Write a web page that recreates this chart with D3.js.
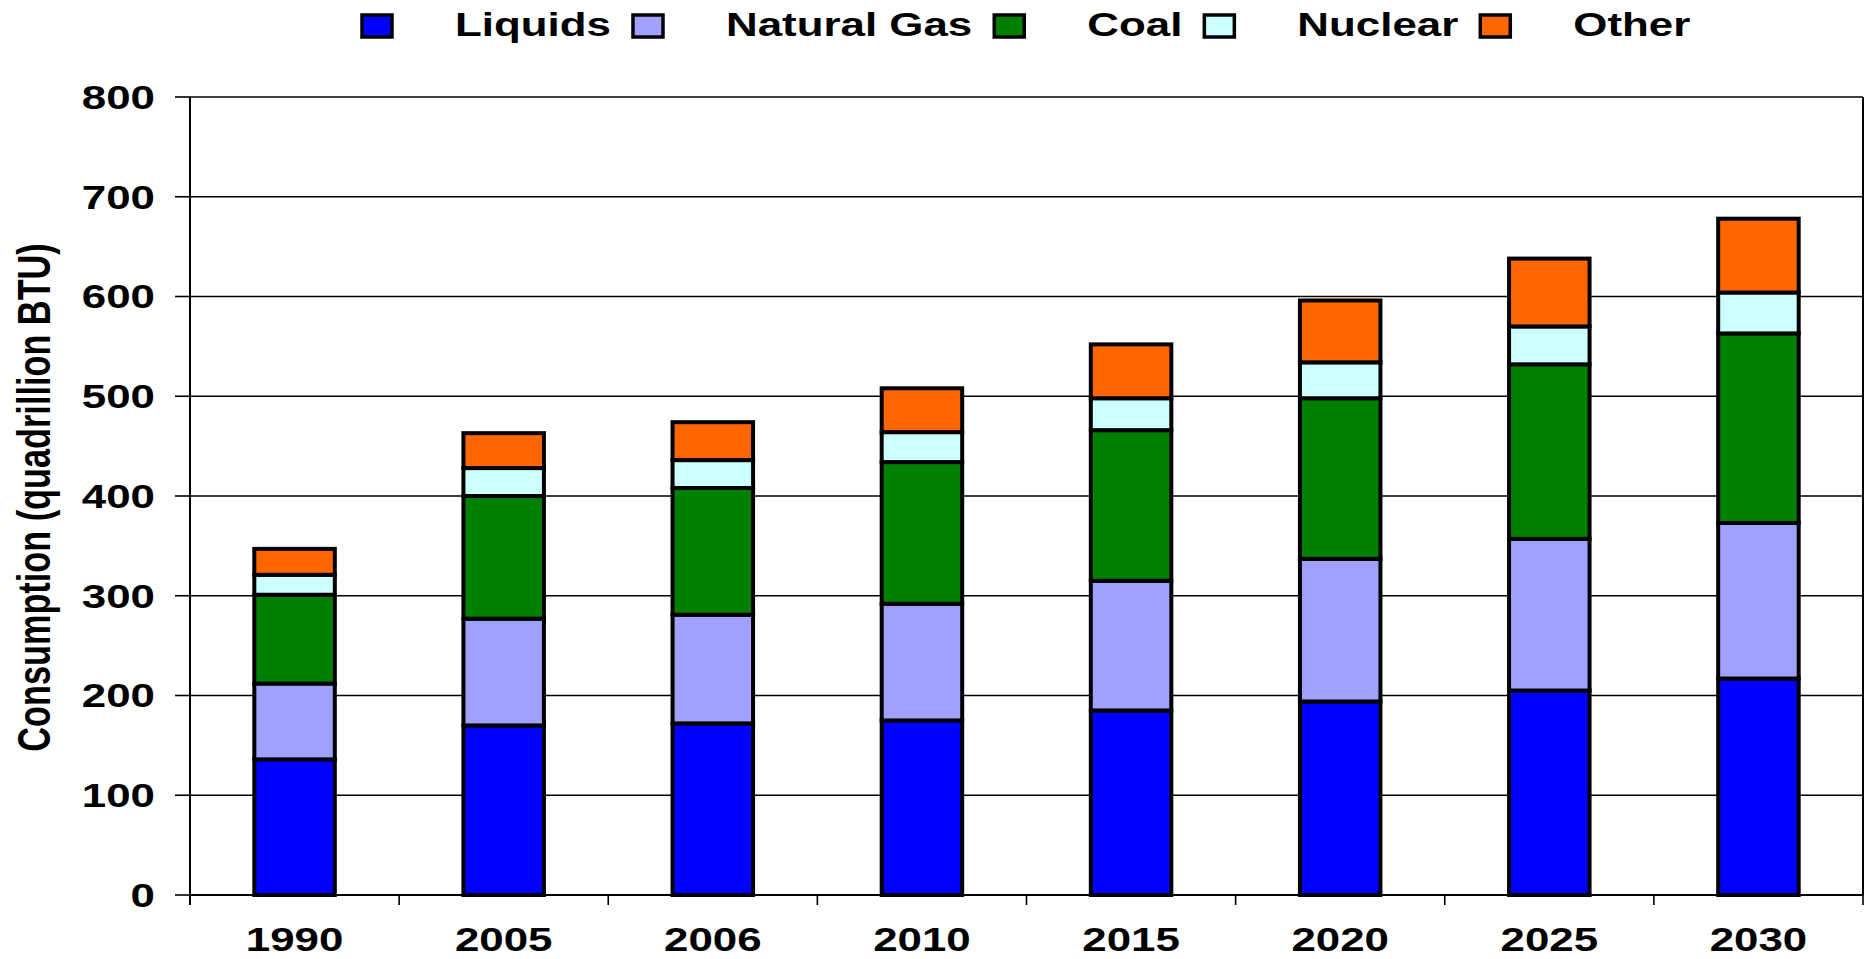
<!DOCTYPE html>
<html>
<head>
<meta charset="utf-8">
<script src="https://cdn.jsdelivr.net/npm/d3@7"></script>
<style>
  html, body { margin: 0; padding: 0; background: #fff; }
  svg { display: block; font-family: "Liberation Sans", Arial, sans-serif; font-weight: bold; }
</style>
</head>
<body>
<svg id="chart" width="1868" height="959"></svg>
<script>
// ---- data ----
const years = ["1990", "2005", "2006", "2010", "2015", "2020", "2025", "2030"];
const liquids    = [136, 170, 172, 175, 185, 194, 205, 217];
const naturalGas = [ 76, 107, 109, 117, 130, 143, 152, 156];
const coal       = [ 89, 123, 127, 142, 151, 161, 175, 190];
const nuclear    = [ 20,  28,  28,  30,  32,  36,  38,  41];
const other      = [ 26,  35,  38,  44,  54,  62,  68,  74];
const seriesNames = ["Liquids", "Natural Gas", "Coal", "Nuclear", "Other"];
const seriesColors = ["#0000FF", "#A0A0FF", "#008000", "#CCFFFF", "#FF6600"];
const yTicks = [0, 100, 200, 300, 400, 500, 600, 700, 800];
const yTitle = "Consumption (quadrillion BTU)";

// ---- layout ----
const svg = d3.select("#chart");
const plotLeft = 190, plotRight = 1863, plotTop = 97, plotBottom = 895;
const SX = 1.33;      // horizontal text stretch of original picture
const FS = 33;

const table = years.map((yr, i) => ({
  year: yr,
  "Liquids": liquids[i],
  "Natural Gas": naturalGas[i],
  "Coal": coal[i],
  "Nuclear": nuclear[i],
  "Other": other[i]
}));

const x = d3.scaleBand().domain(years).range([plotLeft, plotRight])
  .paddingInner(0.615).paddingOuter(0.3075);
const y = d3.scaleLinear().domain([0, 800]).range([plotBottom, plotTop]);
const color = d3.scaleOrdinal().domain(seriesNames).range(seriesColors);

// gridlines
svg.append("g").selectAll("line").data(yTicks.filter(t => t > 0)).join("line")
  .attr("x1", plotLeft).attr("x2", plotRight)
  .attr("y1", d => y(d)).attr("y2", d => y(d))
  .attr("stroke", "#000").attr("stroke-width", 1.4);

// right border
svg.append("line").attr("x1", plotRight).attr("x2", plotRight).attr("y1", y(800)).attr("y2", y(0))
  .attr("stroke", "#000").attr("stroke-width", 2);

// bars
const stacked = d3.stack().keys(seriesNames)(table);
svg.append("g").selectAll("g").data(stacked).join("g")
  .attr("fill", d => color(d.key))
  .selectAll("rect").data(d => d).join("rect")
  .attr("x", d => x(d.data.year))
  .attr("width", x.bandwidth())
  .attr("y", d => y(d[1]))
  .attr("height", d => y(d[0]) - y(d[1]))
  .attr("stroke", "#000").attr("stroke-width", 4);

// y axis line and ticks
svg.append("line").attr("x1", plotLeft).attr("x2", plotLeft).attr("y1", y(800)).attr("y2", y(0) + 10)
  .attr("stroke", "#000").attr("stroke-width", 2);
svg.append("g").selectAll("line").data(yTicks).join("line")
  .attr("x1", plotLeft - 15).attr("x2", plotLeft)
  .attr("y1", d => y(d)).attr("y2", d => y(d))
  .attr("stroke", "#000").attr("stroke-width", 1.6);
svg.append("g").selectAll("text").data(yTicks).join("text")
  .attr("transform", d => `translate(155,${y(d) + 11.8}) scale(${SX},1)`)
  .attr("text-anchor", "end").attr("font-size", FS)
  .text(d => d);

// x axis line and ticks
svg.append("line").attr("x1", plotLeft).attr("x2", plotRight).attr("y1", y(0)).attr("y2", y(0))
  .attr("stroke", "#000").attr("stroke-width", 2);
const bounds = d3.range(years.length + 1).map(i => plotLeft + i * x.step());
svg.append("g").selectAll("line").data(bounds).join("line")
  .attr("x1", d => d).attr("x2", d => d)
  .attr("y1", y(0)).attr("y2", y(0) + 10)
  .attr("stroke", "#000").attr("stroke-width", 1.6);
svg.append("g").selectAll("text").data(years).join("text")
  .attr("transform", d => `translate(${x(d) + x.bandwidth() / 2},951) scale(${SX},1)`)
  .attr("text-anchor", "middle").attr("font-size", FS)
  .text(d => d);

// y title
svg.append("text")
  .attr("transform", `translate(50,497.5) scale(${SX},1) rotate(-90)`)
  .attr("text-anchor", "middle").attr("font-size", 34.3)
  .text(yTitle);

// legend
const lg = svg.append("g");
let lx = 362;
seriesNames.forEach((name) => {
  lg.append("rect").attr("x", lx).attr("y", 15).attr("width", 30).attr("height", 22)
    .attr("fill", color(name)).attr("stroke", "#000").attr("stroke-width", 3.5);
  const t = lg.append("text")
    .attr("transform", `translate(${lx + 93},36) scale(${SX},1)`)
    .attr("font-size", FS).text(name);
  const w = t.node().getComputedTextLength() * SX;
  lx = lx + 93 + w + 22;
});
</script>
</body>
</html>
